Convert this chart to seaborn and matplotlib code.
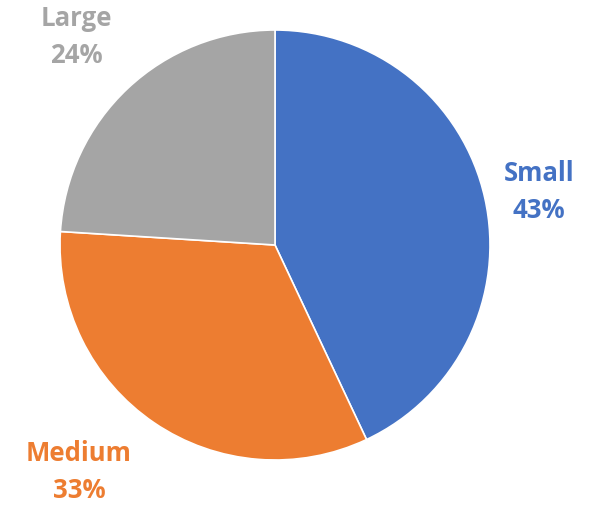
import numpy as np
import matplotlib
matplotlib.use("Agg")
import matplotlib.pyplot as plt
import seaborn as sns

sns.set_theme(style="white")
plt.rcParams["font.family"] = ["Open Sans", "DejaVu Sans"]

categories = ["Small", "Medium", "Large"]
shares = [43, 33, 24]
colors = ["#4472C4", "#ED7D31", "#A5A5A5"]

W, H = 595, 505
fig = plt.figure(figsize=(W / 100, H / 100), dpi=100)
ax = fig.add_axes([0, 0, 1, 1])

cx, cy, r = 275, H - 245, 215
wedges, _ = ax.pie(
    shares,
    colors=colors,
    startangle=90,
    counterclock=False,
    center=(cx, cy),
    radius=r,
    wedgeprops=dict(edgecolor="white", linewidth=1.2),
    frame=True,
)
ax.set_xlim(0, W)
ax.set_ylim(0, H)
ax.set_aspect("equal")
ax.axis("off")

# label anchors, as offsets from the pie centre in pixels
label_offsets = [(264, 53), (-196, -227), (-199, 208)]

for name, val, col, (dx, dy) in zip(categories, shares, colors, label_offsets):
    ax.text(cx + dx, cy + dy, f"{name}\n{val}%", ha="center", va="center",
            color=col, fontsize=18.5, fontweight="bold", linespacing=1.5)

fig.savefig("out.png", dpi=100)
